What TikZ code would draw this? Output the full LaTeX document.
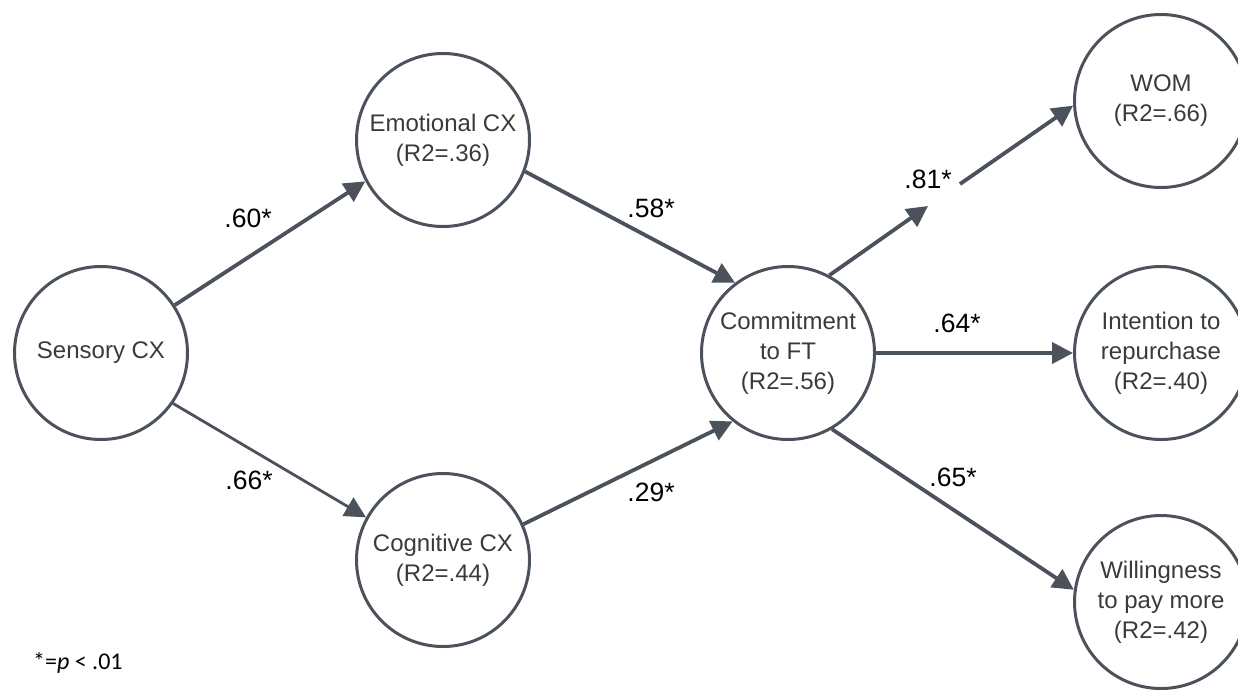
\documentclass[tikz,border=0pt]{standalone}
\usepackage{fontspec}
\setmainfont{Liberation Sans}
\newfontfamily\notefont{Carlito}
\usepackage{tikz}
\usetikzlibrary{arrows.meta}
\definecolor{edgegray}{RGB}{75,82,92}
\definecolor{textgray}{RGB}{58,58,58}
\tikzset{
  font={\fontsize{24pt}{30pt}\selectfont},
  state/.style={circle,draw=edgegray,line width=3pt,minimum size=173pt,align=center,text=textgray},
  link/.style={draw=edgegray,line width=3.8pt,-{Triangle[length=21pt,width=21pt]}},
  coef/.style={font={\fontsize{26.5pt}{30pt}\selectfont},text=black}}
\begin{document}
\begin{tikzpicture}[x=1pt,y=1pt]
\tikzstyle{every node}+=[inner sep=0pt]
\useasboundingbox (0,0) rectangle (1238,-689);
\node [state] (sens) at (101,-353) {Sensory CX};
\node [state] (emo) at (443,-140) {Emotional CX\\(R2=.36)};
\node [state] (cog) at (443,-560) {Cognitive CX\\(R2=.44)};
\node [state] (com) at (788,-353) {Commitment\\to FT\\(R2=.56)};
\node [state] (wom) at (1161,-101) {WOM\\(R2=.66)};
\node [state] (rep) at (1161,-353) {Intention to\\repurchase\\(R2=.40)};
\node [state] (pay) at (1161,-602) {Willingness\\to pay more\\(R2=.42)};
\coordinate (w1) at (928,-206);
\coordinate (w2) at (960,-184);
\draw [link] (sens.33) -- (emo.208);
\draw [link,line width=2.8pt] (sens.-35) -- (cog.151);
\draw [link] (emo.-21) -- (com.127);
\draw [link] (cog.24) -- (com.231);
\draw [link] (com.62) -- (w1);
\draw [link] (w2) -- (wom.183);
\draw [link] (com.east) -- (rep.west);
\draw [link] (com.-60) -- (pay.172);
\node [coef] (c60) at (248,-218) {.60*};
\node [coef] (c66) at (249,-480) {.66*};
\node [coef] (c58) at (651,-208) {.58*};
\node [coef] (c29) at (651,-492) {.29*};
\node [coef] (c81) at (928,-179) {.81*};
\node [coef] (c64) at (957,-323) {.64*};
\node [coef] (c65) at (953,-477) {.65*};
\node [anchor=west,font={\notefont\fontsize{24pt}{28pt}\selectfont}] (note) at (33,-663) {*=\textit{p} < .01};
\end{tikzpicture}
\end{document}
